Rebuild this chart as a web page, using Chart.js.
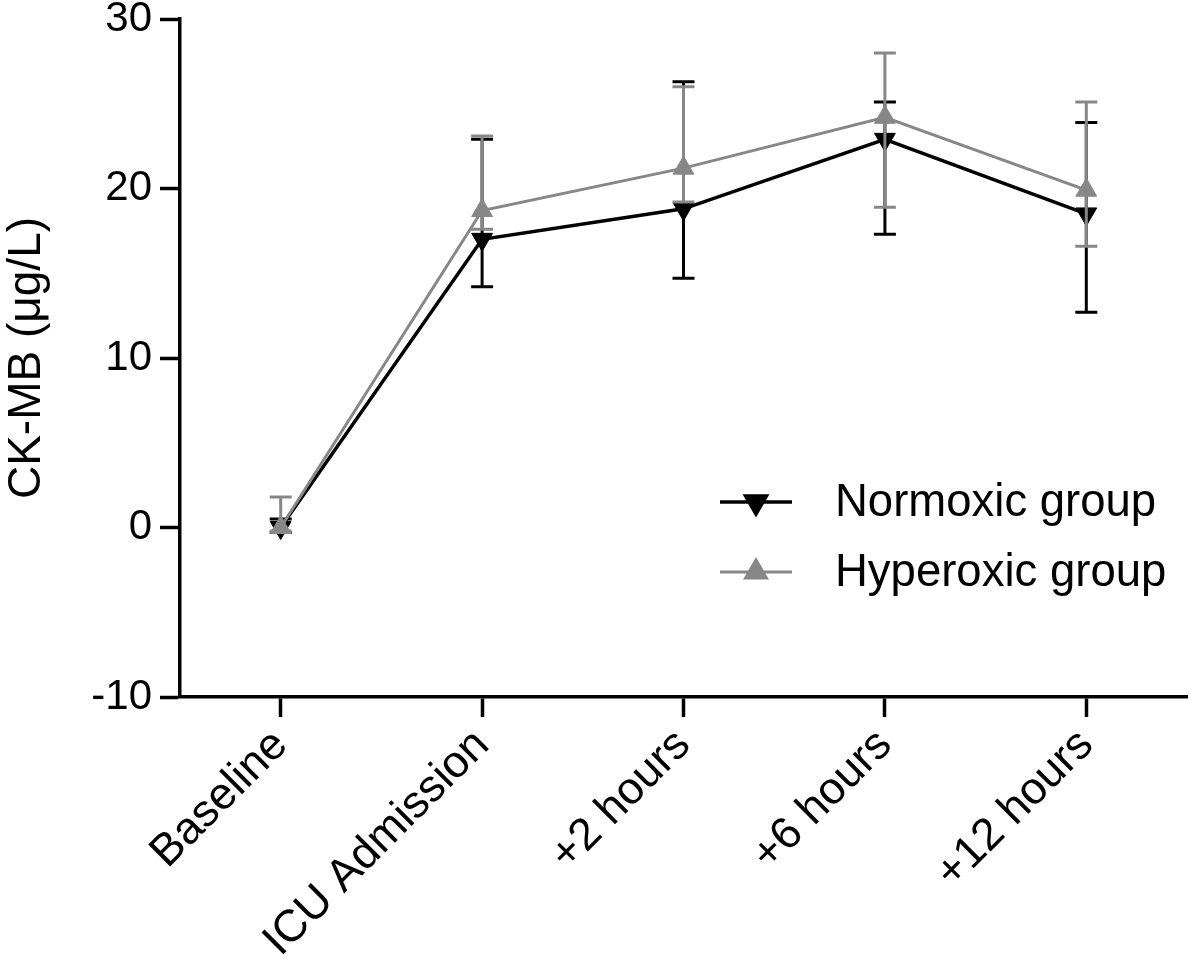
<!DOCTYPE html>
<html>
<head>
<meta charset="utf-8">
<script src="https://cdn.jsdelivr.net/npm/chart.js@4/dist/chart.umd.min.js"></script>
<style>
  html, body { margin: 0; padding: 0; background: #fff; }
  canvas { display: block; }
</style>
</head>
<body>
<canvas id="ckmbChart" width="1200" height="968"></canvas>
<script>
// ── Data: CK-MB (µg/L) by time point ───────────────────────────
const timePoints     = ["Baseline", "ICU Admission", "+2 hours", "+6 hours", "+12 hours"];
const normoxic       = [0, 17.0, 18.8, 22.9, 18.5];
const normoxicUpper  = [0.5, 22.9, 26.3, 25.1, 23.9];
const normoxicLower  = [-0.3, 14.2, 14.7, 17.3, 12.7];
const hyperoxic      = [0, 18.7, 21.2, 24.2, 19.9];
const hyperoxicUpper = [1.8, 23.1, 26.0, 28.0, 25.1];
const hyperoxicLower = [-0.2, 17.6, 19.2, 18.9, 16.6];
const yTicks         = [-10, 0, 10, 20, 30];

const BLACK = "#000000";
const GREY  = "#878787";
const FONT  = "'Liberation Sans', Arial, Helvetica, sans-serif";

// ── Error bars drawn just before each dataset ─────────────────
const errorBars = {
  id: "errorBars",
  beforeDatasetDraw(chart, args) {
    const ds = chart.data.datasets[args.index];
    if (!ds.errUpper) return;
    const { ctx, scales: { x, y } } = chart;
    const cap = 11;
    ctx.save();
    ctx.strokeStyle = ds.borderColor;
    ctx.lineWidth = 3;
    ds.data.forEach((v, i) => {
      const px = x.getPixelForValue(i);
      const top = y.getPixelForValue(ds.errUpper[i]);
      const bot = y.getPixelForValue(ds.errLower[i]);
      ctx.beginPath();
      ctx.moveTo(px, top); ctx.lineTo(px, bot);
      ctx.moveTo(px - cap, top); ctx.lineTo(px + cap, top);
      ctx.moveTo(px - cap, bot); ctx.lineTo(px + cap, bot);
      ctx.stroke();
    });
    ctx.restore();
  },
};

// ── Legend inside the plot area ───────────────────────────────
const insideLegend = {
  id: "insideLegend",
  afterDraw(chart) {
    const { ctx } = chart;
    const rows = [
      { ds: chart.data.datasets[0], y: 502 },
      { ds: chart.data.datasets[1], y: 572 },
    ];
    ctx.save();
    rows.forEach(({ ds, y }) => {
      ctx.strokeStyle = ds.borderColor;
      ctx.lineWidth = ds.borderWidth;
      ctx.beginPath();
      ctx.moveTo(720, y); ctx.lineTo(792, y);
      ctx.stroke();
      ctx.fillStyle = ds.pointBackgroundColor;
      Chart.helpers.drawPoint(ctx, {
        pointStyle: ds.pointStyle, radius: ds.pointRadius,
        rotation: ds.pointRotation, borderWidth: 1,
      }, 756, y);
      ctx.fillStyle = BLACK;
      ctx.font = "45.5px " + FONT;
      ctx.textBaseline = "middle";
      ctx.fillText(ds.label, 835, y + 1);
    });
    ctx.restore();
  },
};

new Chart(document.getElementById("ckmbChart").getContext("2d"), {
  type: "line",
  data: {
    labels: timePoints,
    datasets: [
      {
        label: "Normoxic group",
        data: normoxic,
        errUpper: normoxicUpper,
        errLower: normoxicLower,
        borderColor: BLACK,
        backgroundColor: BLACK,
        pointBackgroundColor: BLACK,
        pointBorderColor: BLACK,
        borderWidth: 3.5,
        pointStyle: "triangle",
        pointRotation: 180,
        pointRadius: 12,
        pointBorderWidth: 1,
        tension: 0,
        order: 2,
      },
      {
        label: "Hyperoxic group",
        data: hyperoxic,
        errUpper: hyperoxicUpper,
        errLower: hyperoxicLower,
        borderColor: GREY,
        backgroundColor: GREY,
        pointBackgroundColor: GREY,
        pointBorderColor: GREY,
        borderWidth: 3,
        pointStyle: "triangle",
        pointRotation: 0,
        pointRadius: 12,
        pointBorderWidth: 1,
        tension: 0,
        order: 1,
      },
    ],
  },
  options: {
    responsive: false,
    devicePixelRatio: 1,
    animation: false,
    layout: { padding: { top: 19, right: 7, left: 0, bottom: 0 } },
    plugins: { legend: { display: false }, tooltip: { enabled: false } },
    scales: {
      x: {
        offset: true,
        afterFit: s => { s.height = 271; },
        border: { color: BLACK, width: 3.5 },
        grid: { drawOnChartArea: false, offset: false, tickLength: 20, tickWidth: 3.5, tickColor: BLACK },
        ticks: { color: BLACK, font: { family: FONT, size: 45 }, minRotation: 45, maxRotation: 45, padding: 2 },
      },
      y: {
        min: -10,
        max: 30,
        afterFit: s => { s.width = 180; s.paddingTop = 0; s.paddingBottom = 0; },
        afterBuildTicks: s => { s.ticks = yTicks.map(v => ({ value: v })); },
        border: { color: BLACK, width: 3.5 },
        grid: { drawOnChartArea: false, tickLength: 20, tickWidth: 3.5, tickColor: BLACK },
        ticks: { color: BLACK, font: { family: FONT, size: 42 }, padding: 8 },
        title: { display: true, text: "CK-MB (μg/L)", color: BLACK, font: { family: FONT, size: 46 }, padding: { top: 0, bottom: 0 } },
      },
    },
  },
  plugins: [errorBars, insideLegend],
});
</script>
</body>
</html>
